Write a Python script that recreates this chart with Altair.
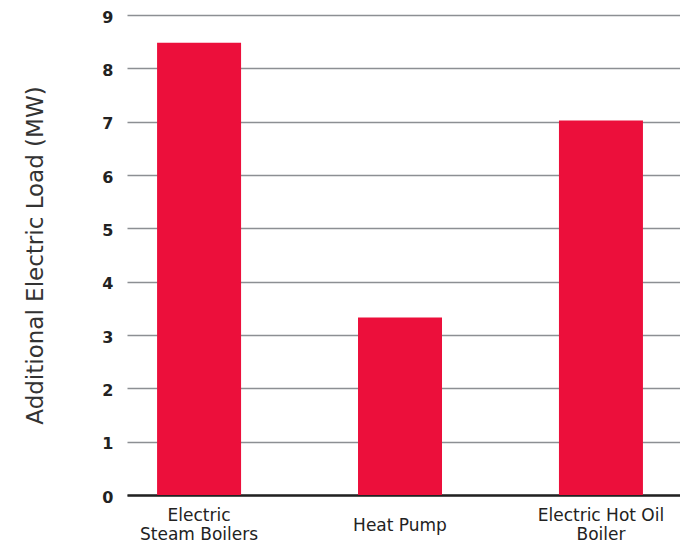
import altair as alt
import pandas as pd

categories = ["Electric Steam Boilers", "Heat Pump", "Electric Hot Oil Boiler"]
values = [8.48, 3.33, 7.02]
y_ticks = [0, 1, 2, 3, 4, 5, 6, 7, 8, 9]

df = pd.DataFrame({"cat": categories, "val": values})

label_expr = (
    "datum.value == 'Electric Steam Boilers' ? ['Electric', 'Steam Boilers'] : "
    "datum.value == 'Electric Hot Oil Boiler' ? ['Electric Hot Oil', 'Boiler'] : datum.value"
)

chart = alt.Chart(df).mark_bar(color="#EC0F3B").encode(
    x=alt.X(
        "cat:N",
        sort=categories,
        title=None,
        scale=alt.Scale(paddingInner=0.582, paddingOuter=0.167, align=0.448),
        axis=alt.Axis(
            labelAngle=0,
            labelExpr=label_expr,
            labelFont="DejaVu Sans",
            labelFontSize=17,
            labelColor="#222222",
            labelBaseline="middle",
            labelLineHeight=19,
            labelPadding={"condition": {"test": "datum.value == 'Heat Pump'", "value": 30}, "value": 20},
            labelLimit=300,
            ticks=False,
            domainColor="#222222",
            domainWidth=2.5,
            grid=False,
        ),
    ),
    y=alt.Y(
        "val:Q",
        title="Additional Electric Load (MW)",
        scale=alt.Scale(domain=[0, 9], nice=False),
        axis=alt.Axis(
            values=y_ticks,
            labelFont="DejaVu Sans",
            labelFontSize=16,
            labelFontWeight="bold",
            labelColor="#222222",
            labelPadding=14,
            labelOffset=2,
            ticks=False,
            domain=False,
            gridColor="#8c8f93",
            gridWidth=1.5,
            titleFont="DejaVu Sans",
            titleFontSize=23,
            titleFontWeight="normal",
            titleColor="#333333",
            titlePadding=54,
        ),
    ),
).properties(
    width=553,
    height=480,
    autosize=alt.AutoSizeParams(type="none"),
    padding={"left": 119, "top": 7, "right": 0, "bottom": 48},
).configure_view(stroke=None)

chart.save("out.html", embed_options={"renderer": "svg", "actions": False})
